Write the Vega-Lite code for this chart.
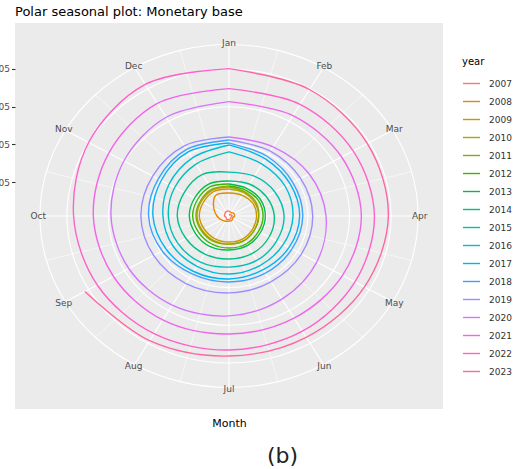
{
  "$schema": "https://vega.github.io/schema/vega-lite/v6.json",
  "width": 428,
  "height": 386,
  "autosize": {"type": "none"},
  "padding": {"left": 15, "top": 23, "right": 70, "bottom": 60},
  "background": "white",
  "title": {"text": "Polar seasonal plot: Monetary base", "anchor": "start", "frame": "group", "font": "DejaVu Sans", "fontSize": 13, "fontWeight": "normal", "color": "black", "baseline": "alphabetic", "offset": -6},
  "config": {"view": {"fill": "#EBEBEB", "stroke": null}},
  "datasets": {
    "rings": [
      {"value": 200000, "m": [1,1.5,2,2.5,3,3.5,4,4.5,5,5.5,6,6.5,7,7.5,8,8.5,9,9.5,10,10.5,11,11.5,12,12.5]},
      {"value": 400000, "m": [1,1.5,2,2.5,3,3.5,4,4.5,5,5.5,6,6.5,7,7.5,8,8.5,9,9.5,10,10.5,11,11.5,12,12.5]},
      {"value": 600000, "m": [1,1.5,2,2.5,3,3.5,4,4.5,5,5.5,6,6.5,7,7.5,8,8.5,9,9.5,10,10.5,11,11.5,12,12.5]},
      {"value": 800000, "m": [1,1.5,2,2.5,3,3.5,4,4.5,5,5.5,6,6.5,7,7.5,8,8.5,9,9.5,10,10.5,11,11.5,12,12.5]},
      {"value": 929800, "m": [1,1.5,2,2.5,3,3.5,4,4.5,5,5.5,6,6.5,7,7.5,8,8.5,9,9.5,10,10.5,11,11.5,12,12.5]}
    ],
    "spokes": [
      {"m": 1, "kind": "major"}, {"m": 2, "kind": "major"}, {"m": 3, "kind": "major"}, {"m": 4, "kind": "major"},
      {"m": 5, "kind": "major"}, {"m": 6, "kind": "major"}, {"m": 7, "kind": "major"}, {"m": 8, "kind": "major"},
      {"m": 9, "kind": "major"}, {"m": 10, "kind": "major"}, {"m": 11, "kind": "major"}, {"m": 12, "kind": "major"},
      {"m": 1.5, "kind": "minor"}, {"m": 2.5, "kind": "minor"}, {"m": 3.5, "kind": "minor"}, {"m": 4.5, "kind": "minor"},
      {"m": 5.5, "kind": "minor"}, {"m": 6.5, "kind": "minor"}, {"m": 7.5, "kind": "minor"}, {"m": 8.5, "kind": "minor"},
      {"m": 9.5, "kind": "minor"}, {"m": 10.5, "kind": "minor"}, {"m": 11.5, "kind": "minor"}, {"m": 12.5, "kind": "minor"}
    ],
    "months": [
      {"m": 1, "label": "Jan"}, {"m": 2, "label": "Feb"}, {"m": 3, "label": "Mar"}, {"m": 4, "label": "Apr"},
      {"m": 5, "label": "May"}, {"m": 6, "label": "Jun"}, {"m": 7, "label": "Jul"}, {"m": 8, "label": "Aug"},
      {"m": 9, "label": "Sep"}, {"m": 10, "label": "Oct"}, {"m": 11, "label": "Nov"}, {"m": 12, "label": "Dec"}
    ],
    "mb": [
      {"year":"2007","month":1,"value":23000},{"year":"2007","month":2,"value":29000},{"year":"2007","month":3,"value":31000},{"year":"2007","month":4,"value":36000},{"year":"2007","month":5,"value":31000},{"year":"2007","month":6,"value":36000},{"year":"2007","month":7,"value":38000},{"year":"2007","month":8,"value":41000},{"year":"2007","month":9,"value":36000},{"year":"2007","month":10,"value":41000},{"year":"2007","month":11,"value":43000},{"year":"2007","month":12,"value":47000},{"year":"2007","month":13,"value":47000},
      {"year":"2008","month":1,"value":47000},{"year":"2008","month":2,"value":41000},{"year":"2008","month":3,"value":47000},{"year":"2008","month":4,"value":47000},{"year":"2008","month":5,"value":41000},{"year":"2008","month":6,"value":47000},{"year":"2008","month":7,"value":47000},{"year":"2008","month":8,"value":52000},{"year":"2008","month":9,"value":62000},{"year":"2008","month":10,"value":78000},{"year":"2008","month":11,"value":105000},{"year":"2008","month":12,"value":147000},{"year":"2008","month":13,"value":142000},
      {"year":"2009","month":1,"value":142000},{"year":"2009","month":2,"value":147000},{"year":"2009","month":3,"value":153000},{"year":"2009","month":4,"value":153000},{"year":"2009","month":5,"value":153000},{"year":"2009","month":6,"value":158000},{"year":"2009","month":7,"value":158000},{"year":"2009","month":8,"value":158000},{"year":"2009","month":9,"value":158000},{"year":"2009","month":10,"value":163000},{"year":"2009","month":11,"value":163000},{"year":"2009","month":12,"value":169000},{"year":"2009","month":13,"value":163000},
      {"year":"2010","month":1,"value":163000},{"year":"2010","month":2,"value":163000},{"year":"2010","month":3,"value":163000},{"year":"2010","month":4,"value":163000},{"year":"2010","month":5,"value":163000},{"year":"2010","month":6,"value":169000},{"year":"2010","month":7,"value":169000},{"year":"2010","month":8,"value":169000},{"year":"2010","month":9,"value":169000},{"year":"2010","month":10,"value":174000},{"year":"2010","month":11,"value":174000},{"year":"2010","month":12,"value":179000},{"year":"2010","month":13,"value":174000},
      {"year":"2011","month":1,"value":174000},{"year":"2011","month":2,"value":169000},{"year":"2011","month":3,"value":169000},{"year":"2011","month":4,"value":163000},{"year":"2011","month":5,"value":163000},{"year":"2011","month":6,"value":169000},{"year":"2011","month":7,"value":169000},{"year":"2011","month":8,"value":174000},{"year":"2011","month":9,"value":174000},{"year":"2011","month":10,"value":179000},{"year":"2011","month":11,"value":179000},{"year":"2011","month":12,"value":184000},{"year":"2011","month":13,"value":179000},
      {"year":"2012","month":1,"value":179000},{"year":"2012","month":2,"value":179000},{"year":"2012","month":3,"value":184000},{"year":"2012","month":4,"value":184000},{"year":"2012","month":5,"value":184000},{"year":"2012","month":6,"value":190000},{"year":"2012","month":7,"value":190000},{"year":"2012","month":8,"value":190000},{"year":"2012","month":9,"value":190000},{"year":"2012","month":10,"value":195000},{"year":"2012","month":11,"value":195000},{"year":"2012","month":12,"value":200000},{"year":"2012","month":13,"value":190000},
      {"year":"2013","month":1,"value":190000},{"year":"2013","month":2,"value":190000},{"year":"2013","month":3,"value":195000},{"year":"2013","month":4,"value":195000},{"year":"2013","month":5,"value":195000},{"year":"2013","month":6,"value":200000},{"year":"2013","month":7,"value":200000},{"year":"2013","month":8,"value":206000},{"year":"2013","month":9,"value":206000},{"year":"2013","month":10,"value":211000},{"year":"2013","month":11,"value":211000},{"year":"2013","month":12,"value":216000},{"year":"2013","month":13,"value":206000},
      {"year":"2014","month":1,"value":206000},{"year":"2014","month":2,"value":216000},{"year":"2014","month":3,"value":227000},{"year":"2014","month":4,"value":238000},{"year":"2014","month":5,"value":243000},{"year":"2014","month":6,"value":248000},{"year":"2014","month":7,"value":248000},{"year":"2014","month":8,"value":253000},{"year":"2014","month":9,"value":259000},{"year":"2014","month":10,"value":269000},{"year":"2014","month":11,"value":269000},{"year":"2014","month":12,"value":275000},{"year":"2014","month":13,"value":253000},
      {"year":"2015","month":1,"value":253000},{"year":"2015","month":2,"value":264000},{"year":"2015","month":3,"value":275000},{"year":"2015","month":4,"value":285000},{"year":"2015","month":5,"value":285000},{"year":"2015","month":6,"value":291000},{"year":"2015","month":7,"value":291000},{"year":"2015","month":8,"value":301000},{"year":"2015","month":9,"value":306000},{"year":"2015","month":10,"value":312000},{"year":"2015","month":11,"value":322000},{"year":"2015","month":12,"value":338000},{"year":"2015","month":13,"value":360000},
      {"year":"2016","month":1,"value":360000},{"year":"2016","month":2,"value":338000},{"year":"2016","month":3,"value":333000},{"year":"2016","month":4,"value":328000},{"year":"2016","month":5,"value":322000},{"year":"2016","month":6,"value":322000},{"year":"2016","month":7,"value":328000},{"year":"2016","month":8,"value":328000},{"year":"2016","month":9,"value":333000},{"year":"2016","month":10,"value":338000},{"year":"2016","month":11,"value":354000},{"year":"2016","month":12,"value":375000},{"year":"2016","month":13,"value":397000},
      {"year":"2017","month":1,"value":397000},{"year":"2017","month":2,"value":370000},{"year":"2017","month":3,"value":360000},{"year":"2017","month":4,"value":360000},{"year":"2017","month":5,"value":354000},{"year":"2017","month":6,"value":349000},{"year":"2017","month":7,"value":354000},{"year":"2017","month":8,"value":360000},{"year":"2017","month":9,"value":370000},{"year":"2017","month":10,"value":386000},{"year":"2017","month":11,"value":397000},{"year":"2017","month":12,"value":413000},{"year":"2017","month":13,"value":407000},
      {"year":"2018","month":1,"value":407000},{"year":"2018","month":2,"value":386000},{"year":"2018","month":3,"value":375000},{"year":"2018","month":4,"value":375000},{"year":"2018","month":5,"value":370000},{"year":"2018","month":6,"value":370000},{"year":"2018","month":7,"value":370000},{"year":"2018","month":8,"value":375000},{"year":"2018","month":9,"value":391000},{"year":"2018","month":10,"value":407000},{"year":"2018","month":11,"value":413000},{"year":"2018","month":12,"value":428000},{"year":"2018","month":13,"value":423000},
      {"year":"2019","month":1,"value":423000},{"year":"2019","month":2,"value":418000},{"year":"2019","month":3,"value":418000},{"year":"2019","month":4,"value":423000},{"year":"2019","month":5,"value":423000},{"year":"2019","month":6,"value":423000},{"year":"2019","month":7,"value":428000},{"year":"2019","month":8,"value":434000},{"year":"2019","month":9,"value":439000},{"year":"2019","month":10,"value":444000},{"year":"2019","month":11,"value":444000},{"year":"2019","month":12,"value":450000},{"year":"2019","month":13,"value":439000},
      {"year":"2020","month":1,"value":439000},{"year":"2020","month":2,"value":444000},{"year":"2020","month":3,"value":466000},{"year":"2020","month":4,"value":487000},{"year":"2020","month":5,"value":508000},{"year":"2020","month":6,"value":529000},{"year":"2020","month":7,"value":550000},{"year":"2020","month":8,"value":566000},{"year":"2020","month":9,"value":577000},{"year":"2020","month":10,"value":588000},{"year":"2020","month":11,"value":604000},{"year":"2020","month":12,"value":625000},{"year":"2020","month":13,"value":627000},
      {"year":"2021","month":1,"value":627000},{"year":"2021","month":2,"value":635000},{"year":"2021","month":3,"value":646000},{"year":"2021","month":4,"value":657000},{"year":"2021","month":5,"value":651000},{"year":"2021","month":6,"value":646000},{"year":"2021","month":7,"value":646000},{"year":"2021","month":8,"value":657000},{"year":"2021","month":9,"value":662000},{"year":"2021","month":10,"value":673000},{"year":"2021","month":11,"value":688000},{"year":"2021","month":12,"value":710000},{"year":"2021","month":13,"value":696000},
      {"year":"2022","month":1,"value":696000},{"year":"2022","month":2,"value":704000},{"year":"2022","month":3,"value":710000},{"year":"2022","month":4,"value":720000},{"year":"2022","month":5,"value":720000},{"year":"2022","month":6,"value":726000},{"year":"2022","month":7,"value":731000},{"year":"2022","month":8,"value":741000},{"year":"2022","month":9,"value":752000},{"year":"2022","month":10,"value":768000},{"year":"2022","month":11,"value":800000},{"year":"2022","month":12,"value":826000},{"year":"2022","month":13,"value":802000},
      {"year":"2023","month":1,"value":802000},{"year":"2023","month":2,"value":795000},{"year":"2023","month":3,"value":789000},{"year":"2023","month":4,"value":787000},{"year":"2023","month":5,"value":773000},{"year":"2023","month":6,"value":763000},{"year":"2023","month":7,"value":763000},{"year":"2023","month":8,"value":784000},{"year":"2023","month":9,"value":821000}
    ]
  },
  "layer": [
    {
      "data": {"name": "rings"},
      "transform": [
        {"flatten": ["m"]},
        {"calculate": "(datum.m - 1) * PI / 6", "as": "theta"},
        {"calculate": "(datum.value - 20000) * sin(datum.theta)", "as": "x"},
        {"calculate": "(datum.value - 20000) * cos(datum.theta)", "as": "y"}
      ],
      "mark": {"type": "line", "interpolate": "cardinal-closed", "stroke": "white", "strokeWidth": 1.1},
      "encoding": {
        "x": {"field": "x", "type": "quantitative", "scale": {"domain": [-1030000, 1030000]},
              "axis": {"orient": "bottom", "title": "(b)", "labels": false, "ticks": false, "domain": false, "grid": false,
                       "titleFont": "DejaVu Sans", "titleFontSize": 22, "titleFontWeight": "normal", "titleColor": "#222222",
                       "titleX": 267, "titleY": 46, "titleBaseline": "middle", "titleAlign": "center"}},
        "y": {"field": "y", "type": "quantitative", "scale": {"domain": [-1024000, 1024000]}, "axis": null},
        "detail": {"field": "value", "type": "nominal"},
        "order": {"field": "m", "type": "quantitative"}
      }
    },
    {
      "data": {"name": "spokes"},
      "transform": [
        {"calculate": "(datum.m - 1) * PI / 6", "as": "theta"},
        {"calculate": "909800 * sin(datum.theta)", "as": "x"},
        {"calculate": "909800 * cos(datum.theta)", "as": "y"}
      ],
      "mark": {"type": "rule", "stroke": "white"},
      "encoding": {
        "x": {"field": "x", "type": "quantitative", "scale": {"domain": [-1030000, 1030000]}, "axis": null},
        "y": {"field": "y", "type": "quantitative", "scale": {"domain": [-1024000, 1024000]}, "axis": null},
        "x2": {"datum": 0},
        "y2": {"datum": 0},
        "strokeWidth": {"field": "kind", "type": "nominal", "scale": {"domain": ["major", "minor"], "range": [1.1, 0.55]}, "legend": null}
      }
    },
    {
      "data": {"name": "months"},
      "transform": [
        {"calculate": "(datum.m - 1) * PI / 6", "as": "theta"},
        {"calculate": "918000 * sin(datum.theta)", "as": "x"},
        {"calculate": "918000 * cos(datum.theta)", "as": "y"}
      ],
      "mark": {"type": "text", "font": "DejaVu Sans", "fontSize": 9, "color": "#4D4D4D", "align": "center", "baseline": "middle"},
      "encoding": {
        "x": {"field": "x", "type": "quantitative", "scale": {"domain": [-1030000, 1030000]}, "axis": null},
        "y": {"field": "y", "type": "quantitative", "scale": {"domain": [-1024000, 1024000]}, "axis": null},
        "text": {"field": "label", "type": "nominal"}
      }
    },
    {
      "data": {"name": "mb"},
      "transform": [
        {"calculate": "(datum.month - 1) * PI / 6", "as": "theta"},
        {"calculate": "(datum.value - 20000) * sin(datum.theta)", "as": "x"},
        {"calculate": "(datum.value - 20000) * cos(datum.theta)", "as": "y"}
      ],
      "mark": {"type": "line", "interpolate": "catmull-rom", "strokeWidth": 1.4},
      "encoding": {
        "x": {"field": "x", "type": "quantitative", "scale": {"domain": [-1030000, 1030000]},
              "axis": {"orient": "bottom", "title": "Month", "labels": false, "ticks": false, "domain": false, "grid": false,
                       "titleFont": "DejaVu Sans", "titleFontSize": 11, "titleFontWeight": "normal", "titleColor": "black",
                       "titleY": 14, "titleBaseline": "middle"}},
        "y": {"field": "y", "type": "quantitative", "scale": {"domain": [-1024000, 1024000]},
              "axis": {"orient": "left", "values": [180000, 380000, 580000, 780000],
                       "labelExpr": "round((datum.value + 20000) / 100000) + 'e+05'",
                       "title": null, "domain": false, "grid": false, "ticks": true, "tickColor": "#333333", "tickSize": 3.5, "tickWidth": 1.1,
                       "labelColor": "#4D4D4D", "labelFont": "DejaVu Sans", "labelFontSize": 9, "labelPadding": 2}},
        "color": {"field": "year", "type": "nominal",
                  "scale": {"domain": ["2007","2008","2009","2010","2011","2012","2013","2014","2015","2016","2017","2018","2019","2020","2021","2022","2023"],
                            "range": ["#F8766D","#E58700","#CF9400","#B2A100","#88AB00","#40B500","#00BC50","#00C087","#00C0B2","#00BCD4","#00B3F2","#3DA2FF","#9C8DFF","#D376FC","#F165E8","#FF61C8","#FF65A3"]},
                  "legend": {"title": "year", "orient": "none", "legendX": 447, "legendY": 34, "padding": 0,
                             "titleFont": "DejaVu Sans", "titleFontSize": 10, "titleFontWeight": "normal", "titleColor": "black", "titlePadding": 7,
                             "labelFont": "DejaVu Sans", "labelFontSize": 9, "labelColor": "#333333", "labelOffset": 8,
                             "symbolType": "stroke", "symbolSize": 289, "symbolStrokeWidth": 1.4, "rowPadding": 3}},
        "order": {"field": "month", "type": "quantitative"}
      }
    }
  ],
  "resolve": {"axis": {"x": "independent", "y": "independent"}}
}
